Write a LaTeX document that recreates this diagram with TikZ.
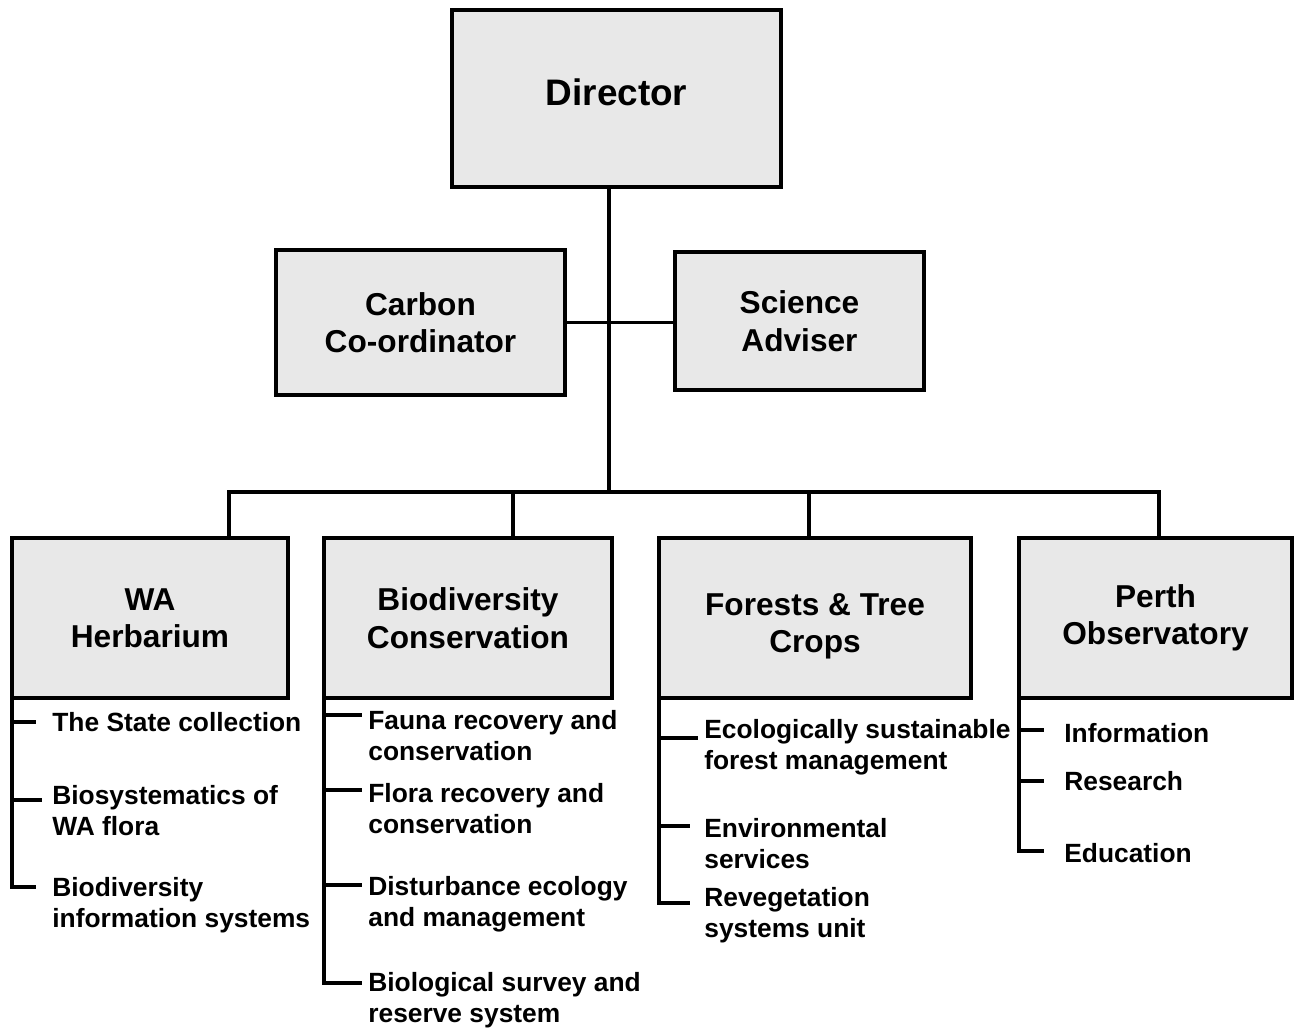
\documentclass[tikz,border=0pt]{standalone}
\usepackage{fontspec}
\setmainfont{Liberation Sans}
\usetikzlibrary{positioning}

\tikzset{
  unit/.style={draw=black, line width=2.3pt, fill=black!9, align=center, inner sep=0pt,
    font=\fontsize{18}{21.3}\selectfont\bfseries},
  link/.style={line width=1.8pt},
  item/.style={anchor=west, align=left, inner sep=0pt, font=\fontsize{15}{17.6}\selectfont\bfseries},
}

\begin{document}
\begin{tikzpicture}
		\useasboundingbox (0,0) rectangle (25.88,-20.64);
		% top of the chart
		\node[unit, minimum width=6.58cm, minimum height=3.54cm, text depth=0.26cm, font=\fontsize{21}{25}\selectfont\bfseries] (dir) at (12.33,-1.97) {Director};
		\node[unit, minimum width=5.78cm, minimum height=2.9cm] (carbon) at (8.41,-6.45) {Carbon\\Co-ordinator};
		\node[unit, minimum width=4.98cm, minimum height=2.76cm] (sci) at (15.99,-6.42) {Science\\Adviser};
		\coordinate (bus) at (12.18,-9.84);
		\draw[link] (dir.south -| bus) -- (bus);
		\draw[link] (carbon.east) -- (carbon.east -| sci.west);

		% divisions
		\node[unit, minimum width=5.52cm, minimum height=3.2cm] (wa) at (3.0,-12.36) {WA\\Herbarium};
		\node[unit, minimum width=5.76cm, minimum height=3.2cm] (bio) at (9.36,-12.36) {Biodiversity\\Conservation};
		\node[unit, minimum width=6.24cm, minimum height=3.2cm] (forest) at (16.3,-12.36) {\rule{0pt}{0.76cm}Forests \& Tree\\Crops};
		\node[unit, minimum width=5.46cm, minimum height=3.2cm] (perth) at (23.11,-12.36) {Perth\\Observatory};
		\coordinate (busWA) at (4.58,-9.84);
		\coordinate (busBio) at (10.26,-9.84);
		\coordinate (busForest) at (16.18,-9.84);
		\coordinate (busPerth) at (23.18,-9.84);
		\draw[link] (wa.north -| busWA) -- (busWA) -- (busPerth) -- (perth.north -| busPerth);
		\draw[link] (busBio) -- (bio.north -| busBio);
		\draw[link] (busForest) -- (forest.north -| busForest);

		% WA Herbarium
		\coordinate (waS) at ([xshift=0.04cm]wa.south west);
		\coordinate (wa1) at (0.72,-14.44);
		\coordinate (wa2) at (0.84,-16.0);
		\coordinate (wa3) at (0.72,-17.74);
		\draw[link] (waS) |- (wa3);
		\draw[link] (waS |- wa1) -- (wa1);
		\draw[link] (waS |- wa2) -- (wa2);
		\node[item] (waT1) at (1.04,-14.44) {The State collection};
		\node[item] (waT2) at (1.04,-16.21) {Biosystematics of\\WA flora};
		\node[item] (waT3) at (1.04,-18.11) {Biodiversity\\information systems};

		% Biodiversity Conservation
		\coordinate (bioS) at ([xshift=0.04cm]bio.south west);
		\coordinate (bio1) at (7.24,-14.3);
		\coordinate (bio2) at (7.24,-15.8);
		\coordinate (bio3) at (7.24,-17.7);
		\coordinate (bio4) at (7.24,-19.66);
		\draw[link] (bioS) |- (bio4);
		\draw[link] (bioS |- bio1) -- (bio1);
		\draw[link] (bioS |- bio2) -- (bio2);
		\draw[link] (bioS |- bio3) -- (bio3);
		\node[item] (bioT1) at (7.36,-14.71) {Fauna recovery and\\conservation};
		\node[item] (bioT2) at (7.36,-16.17) {Flora recovery and\\conservation};
		\node[item] (bioT3) at (7.36,-18.08) {Disturbance ecology\\and management};
		\node[item] (bioT4) at (7.36,-20.01) {Biological survey and\\reserve system};

		% Forests & Tree Crops
		\coordinate (forS) at ([xshift=0.04cm]forest.south west);
		\coordinate (for1) at (13.96,-14.76);
		\coordinate (for2) at (13.8,-16.52);
		\coordinate (for3) at (13.8,-18.06);
		\draw[link] (forS) |- (for3);
		\draw[link] (forS |- for1) -- (for1);
		\draw[link] (forS |- for2) -- (for2);
		\node[item] (forT1) at (14.08,-14.95) {Ecologically sustainable\\forest management};
		\node[item] (forT2) at (14.08,-16.87) {Environmental\\services};
		\node[item] (forT3) at (14.08,-18.31) {Revegetation\\systems unit};

		% Perth Observatory
		\coordinate (perS) at ([xshift=0.04cm]perth.south west);
		\coordinate (per1) at (20.88,-14.6);
		\coordinate (per2) at (20.88,-15.62);
		\coordinate (per3) at (20.88,-17.02);
		\draw[link] (perS) |- (per3);
		\draw[link] (perS |- per1) -- (per1);
		\draw[link] (perS |- per2) -- (per2);
		\node[item] (perT1) at (21.28,-14.66) {Information};
		\node[item] (perT2) at (21.28,-15.62) {Research};
		\node[item] (perT3) at (21.28,-17.06) {Education};
	\end{tikzpicture}
\end{document}
